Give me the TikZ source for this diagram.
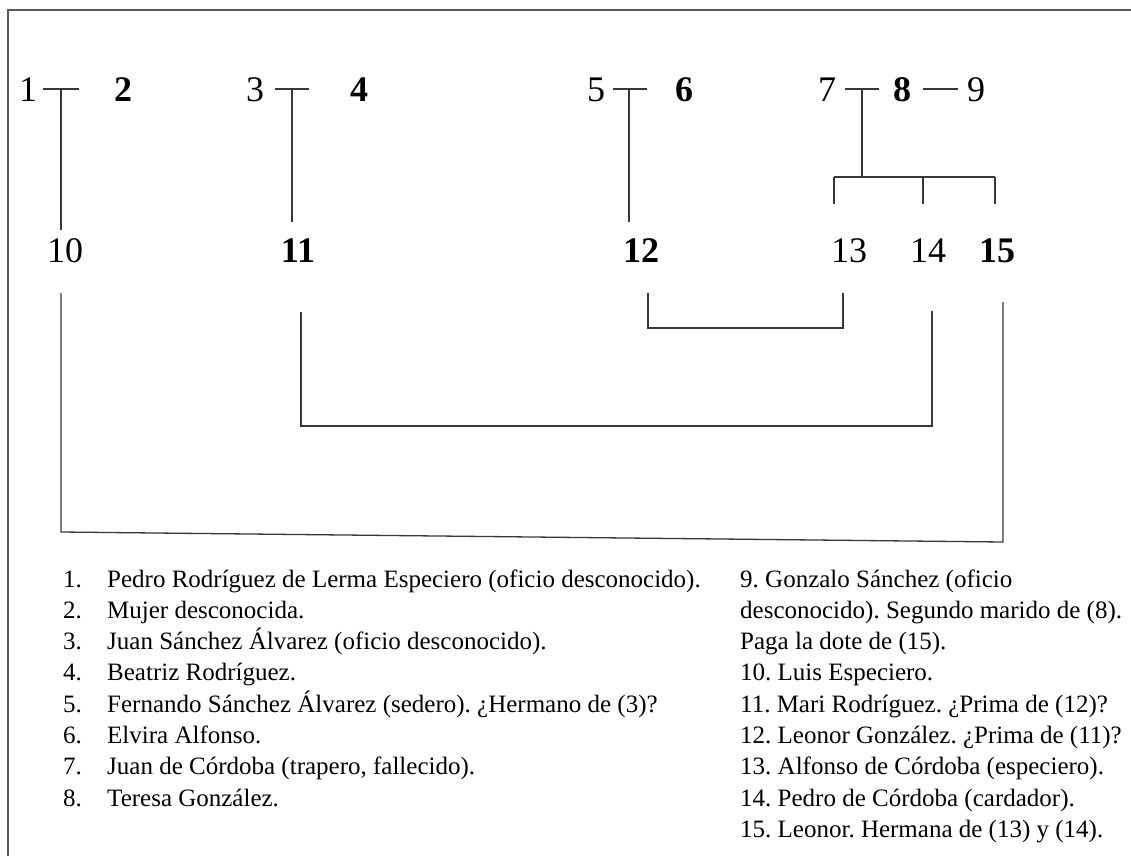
\documentclass[tikz,border=0pt]{standalone}
\usepackage{fontspec}
\setmainfont{Liberation Serif}
\frenchspacing
\begin{document}
\begin{tikzpicture}[x=1pt,y=-1pt,
  conn/.style={line width=1.3pt, draw=black!78},
  frame/.style={line width=2pt, draw=black!65},
  lab/.style={font=\fontsize{36}{40}\selectfont, inner sep=0pt, anchor=base},
  blab/.style={lab, font=\fontsize{36}{40}\selectfont\bfseries},
  leg/.style={font=\fontsize{25}{30}\selectfont, inner sep=0pt, anchor=base west},
  legnum/.style={font=\fontsize{25}{30}\selectfont, inner sep=0pt, anchor=base east}]
\useasboundingbox (0,0) rectangle (1131,856);
\fill[white] (0,0) rectangle (1131,856);
% frame
\draw[frame] (8,856) -- (8,10) -- (1131,10);

% parents
\node[lab]  (n1) at (28,102) {1};
\node[blab] (n2) at (123,102) {2};
\node[lab]  (n3) at (255,102) {3};
\node[blab] (n4) at (359,102) {4};
\node[lab]  (n5) at (596,102) {5};
\node[blab] (n6) at (684,102) {6};
\node[lab]  (n7) at (827,102) {7};
\node[blab] (n8) at (902,102) {8};
\node[lab]  (n9) at (976,102) {9};
% children
\node[lab]  (n10) at (65,262) {10};
\node[blab] (n11) at (298,262) {11};
\node[blab] (n12) at (641,262) {12};
\node[lab]  (n13) at (849,262) {13};
\node[lab]  (n14) at (928,262) {14};
\node[blab] (n15) at (997,262) {15};

% marriage lines and descents
\coordinate (m12a) at (43,89);  \coordinate (m12b) at (79,89);
\coordinate (m12) at (61,89);   \coordinate (d10) at (61,230);
\coordinate (m34a) at (275,89); \coordinate (m34b) at (309,89);
\coordinate (m34) at (292,89);  \coordinate (d11) at (292,222);
\coordinate (m56a) at (613,89); \coordinate (m56b) at (647,89);
\coordinate (m56) at (629,89);  \coordinate (d12) at (629,222);
\coordinate (m78a) at (845,89); \coordinate (m78b) at (879,89);
\coordinate (m89a) at (923,89); \coordinate (m89b) at (958,89);
\coordinate (m78) at (862,89);  \coordinate (bar) at (862,177);
\coordinate (b13) at (834,177); \coordinate (b14) at (923,177); \coordinate (b15) at (995,177);
\coordinate (t13) at (834,204); \coordinate (t14) at (923,204); \coordinate (t15) at (995,204);

\draw[conn] (m12a) -- (m12b);
\draw[conn] (m12) -- (d10);
\draw[conn] (m34a) -- (m34b);
\draw[conn] (m34) -- (d11);
\draw[conn] (m56a) -- (m56b);
\draw[conn] (m56) -- (d12);
\draw[conn] (m78a) -- (m78b);
\draw[conn] (m89a) -- (m89b);
\draw[conn] (m78) -- (bar);
\draw[conn] (b13) -- (b15);
\draw[conn] (b13) -- (t13);
\draw[conn] (b14) -- (t14);
\draw[conn] (b15) -- (t15);

% marriages between children
\coordinate (u10) at (61,293);  \coordinate (u10b) at (61,532);
\coordinate (u15) at (1003,302); \coordinate (u15b) at (1003,542);
\coordinate (u11) at (301,312); \coordinate (u11b) at (301,426);
\coordinate (u14) at (932,311); \coordinate (u14b) at (932,426);
\coordinate (u12) at (648,293); \coordinate (u12b) at (648,328);
\coordinate (u13) at (843,293); \coordinate (u13b) at (843,328);
\draw[conn] (u10) -- (u10b) -- (u15b) -- (u15);
\draw[conn] (u11) -- (u11b) -- (u14b) -- (u14);
\draw[conn] (u12) -- (u12b) -- (u13b) -- (u13);

% legend, left column
\node[legnum] (k1) at (82,587) {1.};
\node[leg] (l1) at (107,587) {Pedro Rodríguez de Lerma Especiero (oficio desconocido).};
\node[legnum] (k2) at (82,618.3) {2.};
\node[leg] (l2) at (107,618.3) {Mujer desconocida.};
\node[legnum] (k3) at (82,649.6) {3.};
\node[leg] (l3) at (107,649.6) {Juan Sánchez Álvarez (oficio desconocido).};
\node[legnum] (k4) at (82,680.9) {4.};
\node[leg] (l4) at (107,680.9) {Beatriz Rodríguez.};
\node[legnum] (k5) at (82,712.2) {5.};
\node[leg] (l5) at (107,712.2) {Fernando Sánchez Álvarez (sedero). ¿Hermano de (3)?};
\node[legnum] (k6) at (82,743.5) {6.};
\node[leg] (l6) at (107,743.5) {Elvira Alfonso.};
\node[legnum] (k7) at (82,774.8) {7.};
\node[leg] (l7) at (107,774.8) {Juan de Córdoba (trapero, fallecido).};
\node[legnum] (k8) at (82,806.1) {8.};
\node[leg] (l8) at (107,806.1) {Teresa González.};

% legend, right column
\node[leg] (r1) at (740,587) {9. Gonzalo Sánchez (oficio};
\node[leg] (r2) at (740,618.3) {desconocido). Segundo marido de (8).};
\node[leg] (r3) at (740,649.6) {Paga la dote de (15).};
\node[leg] (r4) at (740,680.9) {10. Luis Especiero.};
\node[leg] (r5) at (740,712.2) {11. Mari Rodríguez. ¿Prima de (12)?};
\node[leg] (r6) at (740,743.5) {12. Leonor González. ¿Prima de (11)?};
\node[leg] (r7) at (740,774.8) {13. Alfonso de Córdoba (especiero).};
\node[leg] (r8) at (740,806.1) {14. Pedro de Córdoba (cardador).};
\node[leg] (r9) at (740,837.4) {15. Leonor. Hermana de (13) y (14).};
\end{tikzpicture}
\end{document}
